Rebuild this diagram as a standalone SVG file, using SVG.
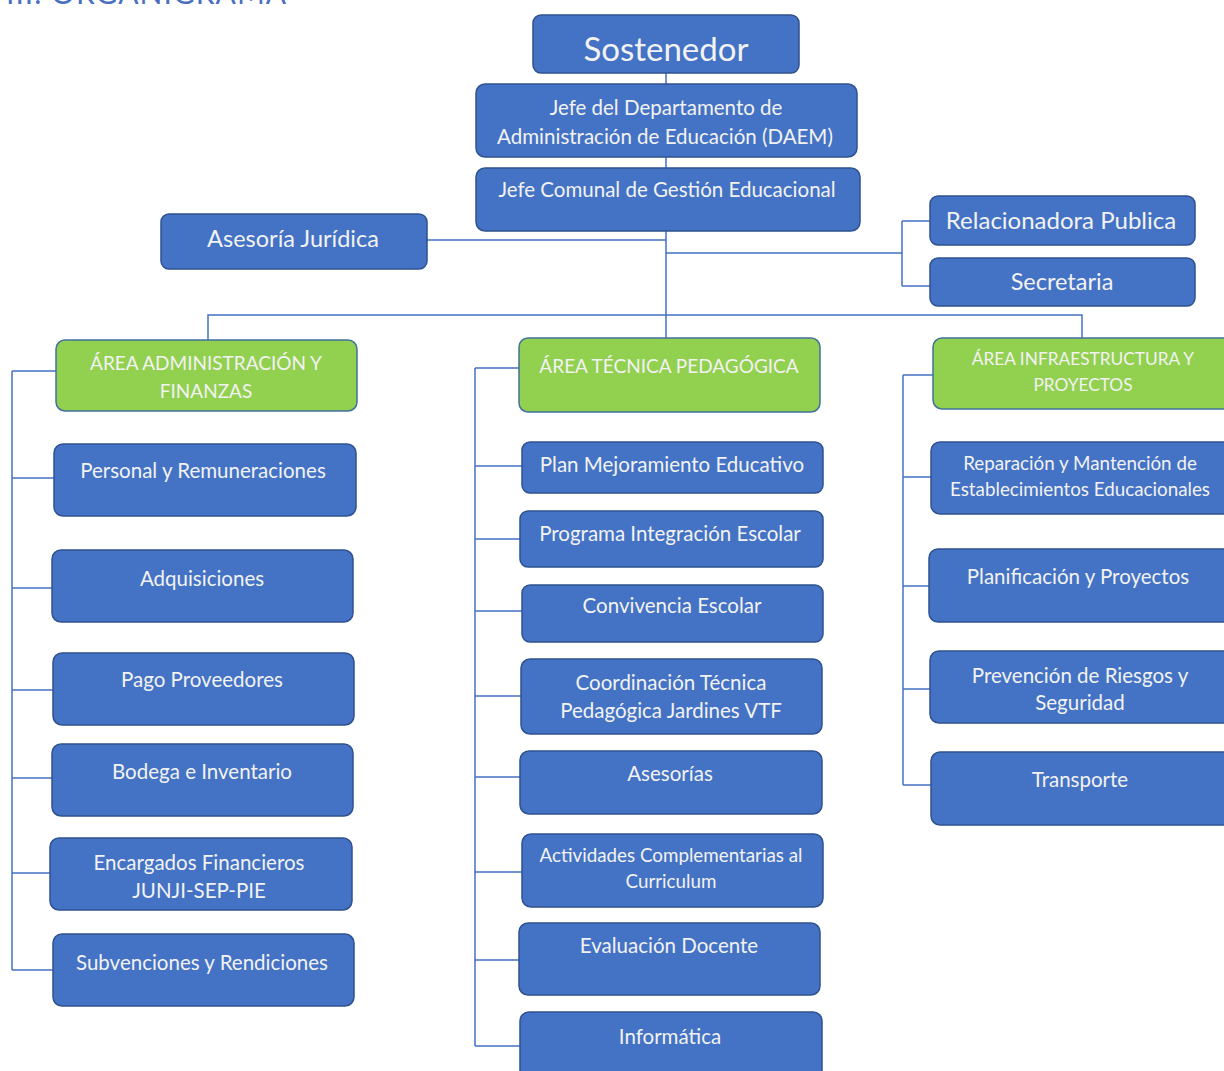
<svg xmlns="http://www.w3.org/2000/svg" width="1224" height="1071" viewBox="0 0 1224 1071">
<style>
.b{fill:#4472C4;stroke:#2F528F;stroke-width:1.5}
.g{fill:#92D050;stroke:#41719C;stroke-width:1.5}
text{font-family:Lato,"Liberation Sans",sans-serif;fill:#F2F2F2;text-anchor:middle}
.t{font-size:20.5px}
.h{font-size:19px}
.hs{font-size:17.3px}
.ts{font-size:18.8px}
.c{fill:none;stroke:#4472C4;stroke-width:1.5}
</style>
<rect width="1224" height="1071" fill="#fff"/>
<text x="6" y="4" style="font-size:30px;fill:#4A6FC0;text-anchor:start;letter-spacing:1px">III. ORGANIGRAMA</text>
<g id="connectors">
<path class="c" d="M666 73V84M666 157V168M666 231V338M427 240H666M666 253H902M902 221V286M902 221H930M902 286H930M208 340V315H1082V338"/>
<path class="c" d="M12 371V970M12 371H56M12 478H54M12 588H52M12 690H53M12 778H52M12 873H50M12 970H53"/>
<path class="c" d="M475 368V1046M475 368H519M475 466H522M475 539H520M475 611H522M475 696H521M475 777H520M475 872H522M475 960H519M475 1046H520"/>
<path class="c" d="M903 375V785M903 375H933M903 477H931M903 586H929M903 689H930M903 785H931"/>
</g>
<g id="sostenedor"><rect class="b" x="533" y="15" width="266" height="58" rx="8"/><text x="666" y="61" style="font-size:33px">Sostenedor</text></g>
<g id="daem"><rect class="b" x="476" y="84" width="381" height="73" rx="9"/><text class="t" x="666" y="115">Jefe del Departamento de</text><text class="t" x="665" y="144">Administración de Educación (DAEM)</text></g>
<g id="jefe-comunal"><rect class="b" x="476" y="168" width="384" height="63" rx="9"/><text class="t" x="667" y="197">Jefe Comunal de Gestión Educacional</text></g>
<g id="asesoria-juridica"><rect class="b" x="161" y="214" width="266" height="55" rx="8"/><text x="293" y="247" style="font-size:23.5px">Asesoría Jurídica</text></g>
<g id="relacionadora"><rect class="b" x="930" y="196" width="265" height="49" rx="8"/><text x="1061" y="229" style="font-size:24px">Relacionadora Publica</text></g>
<g id="secretaria"><rect class="b" x="930" y="258" width="265" height="48" rx="8"/><text x="1062" y="290" style="font-size:23.5px">Secretaria</text></g>

<g id="area-admin"><rect class="g" x="56" y="340" width="301" height="71" rx="9"/><text class="h" x="206" y="370">ÁREA ADMINISTRACIÓN Y</text><text class="h" x="206" y="398">FINANZAS</text></g>
<g id="personal"><rect class="b" x="54" y="444" width="302" height="72" rx="9"/><text class="t" x="203" y="478">Personal y Remuneraciones</text></g>
<g id="adquisiciones"><rect class="b" x="52" y="550" width="301" height="72" rx="9"/><text class="t" x="202" y="586">Adquisiciones</text></g>
<g id="pago"><rect class="b" x="53" y="653" width="301" height="72" rx="9"/><text class="t" x="202" y="687">Pago Proveedores</text></g>
<g id="bodega"><rect class="b" x="52" y="744" width="301" height="72" rx="9"/><text class="t" x="202" y="779">Bodega e Inventario</text></g>
<g id="encargados"><rect class="b" x="50" y="838" width="302" height="72" rx="9"/><text class="t" x="199" y="870">Encargados Financieros</text><text class="t" x="199" y="898">JUNJI-SEP-PIE</text></g>
<g id="subvenciones"><rect class="b" x="53" y="934" width="301" height="72" rx="9"/><text class="t" x="202" y="970">Subvenciones y Rendiciones</text></g>

<g id="area-tecnica"><rect class="g" x="519" y="338" width="301" height="74" rx="9"/><text class="h" x="669" y="373">ÁREA TÉCNICA PEDAGÓGICA</text></g>
<g id="plan"><rect class="b" x="522" y="442" width="301" height="51" rx="8"/><text class="t" x="672" y="472">Plan Mejoramiento Educativo</text></g>
<g id="programa"><rect class="b" x="520" y="511" width="303" height="56" rx="8"/><text class="t" x="670" y="541">Programa Integración Escolar</text></g>
<g id="convivencia"><rect class="b" x="522" y="585" width="301" height="57" rx="8"/><text class="t" x="672" y="613">Convivencia Escolar</text></g>
<g id="coordinacion"><rect class="b" x="521" y="659" width="301" height="75" rx="9"/><text class="t" x="671" y="690">Coordinación Técnica</text><text class="t" x="671" y="718">Pedagógica Jardines VTF</text></g>
<g id="asesorias"><rect class="b" x="520" y="751" width="302" height="63" rx="9"/><text class="t" x="670" y="781">Asesorías</text></g>
<g id="actividades"><rect class="b" x="522" y="834" width="301" height="73" rx="9"/><text class="ts" x="671" y="862">Actividades Complementarias al</text><text class="ts" x="671" y="888">Curriculum</text></g>
<g id="evaluacion"><rect class="b" x="519" y="923" width="301" height="72" rx="9"/><text class="t" x="669" y="953">Evaluación Docente</text></g>
<g id="informatica"><rect class="b" x="520" y="1012" width="302" height="72" rx="9"/><text class="t" x="670" y="1044">Informática</text></g>

<g id="area-infra"><rect class="g" x="933" y="338" width="300" height="71" rx="9"/><text class="hs" x="1083" y="365">ÁREA INFRAESTRUCTURA Y</text><text class="hs" x="1083" y="391">PROYECTOS</text></g>
<g id="reparacion"><rect class="b" x="931" y="442" width="302" height="72" rx="9"/><text class="ts" x="1080" y="470">Reparación y Mantención de</text><text class="ts" x="1080" y="496">Establecimientos Educacionales</text></g>
<g id="planificacion"><rect class="b" x="929" y="549" width="304" height="73" rx="9"/><text class="t" x="1078" y="584">Planificación y Proyectos</text></g>
<g id="prevencion"><rect class="b" x="930" y="651" width="303" height="72" rx="9"/><text class="t" x="1080" y="683">Prevención de Riesgos y</text><text class="t" x="1080" y="710">Seguridad</text></g>
<g id="transporte"><rect class="b" x="931" y="752" width="302" height="73" rx="9"/><text class="t" x="1080" y="787">Transporte</text></g>
</svg>
